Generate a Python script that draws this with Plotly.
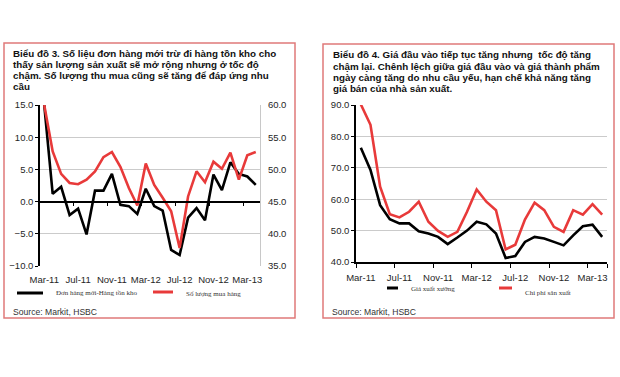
import plotly.graph_objects as go

# ---------------- data ----------------
months = ["Mar-11", "Apr-11", "May-11", "Jun-11", "Jul-11", "Aug-11", "Sep-11", "Oct-11",
          "Nov-11", "Dec-11", "Jan-12", "Feb-12", "Mar-12", "Apr-12", "May-12", "Jun-12",
          "Jul-12", "Aug-12", "Sep-12", "Oct-12", "Nov-12", "Dec-12", "Jan-13", "Feb-13",
          "Mar-13", "Apr-13"]
tick_labels = ["Mar-11", "Jul-11", "Nov-11", "Mar-12", "Jul-12", "Nov-12", "Mar-13"]

# Chart 3
new_orders_minus_inventory = [15.0, 1.2, 2.3, -2.1, -1.1, -5.1, 1.7, 1.7, 4.3, -0.5, -0.7, -1.9, 2.0,
                              -0.7, -1.4, -7.5, -8.3, -2.5, -1.0, -2.9, 4.2, 1.8, 6.1, 4.3, 3.9, 2.6]
purchases = [60.0, 52.8, 49.3, 47.9, 47.7, 48.4, 49.7, 51.9, 52.7, 50.4, 47.1, 44.4, 50.9,
             47.6, 45.6, 43.5, 37.8, 45.8, 49.7, 48.0, 51.2, 50.1, 52.6, 48.4, 52.2, 52.7]

# Chart 4
output_prices = [76.4, 69.3, 58.1, 53.6, 52.3, 52.3, 49.8, 49.1, 48.0, 45.7, 47.8, 50.0, 52.8,
                 52.0, 49.1, 41.3, 41.9, 46.4, 48.0, 47.5, 46.4, 45.3, 48.5, 51.4, 51.9, 48.0]
input_prices = [90.2, 83.7, 64.0, 55.2, 54.2, 56.0, 59.2, 52.8, 49.9, 48.0, 49.6, 56.0, 63.1,
                59.2, 56.5, 44.0, 45.5, 53.5, 58.9, 56.5, 51.2, 49.6, 56.5, 55.1, 58.4, 55.1]

title3 = ["Biểu đồ 3. Số liệu đơn hàng mới trừ đi hàng tồn kho cho",
          "thấy sản lượng sản xuất sẽ mở rộng nhưng ở tốc độ",
          "chậm. Số lượng thu mua cũng sẽ tăng để đáp ứng nhu",
          "cầu"]
title4 = ["Biểu đồ 4. Giá đầu vào tiếp tục tăng nhưng  tốc độ tăng",
          "chậm lại. Chênh lệch giữa giá đầu vào và giá thành phẩm",
          "ngày càng tăng do nhu cầu yếu, hạn chế khả năng tăng",
          "giá bán của nhà sản xuất."]
legend3 = ["Đơn hàng mới-Hàng tồn kho", "Số lượng mua hàng"]
legend4 = ["Giá xuất xưởng", "Chi phí sản xuất"]
source = "Source: Markit, HSBC"

# ---------------- layout helpers ----------------
W, H = 620, 377
def px(x):
    return x / W
def py(y):
    return 1 - y / H

RED = "#e83a3a"
BORDER = "#e07a7a"
FONT = "Liberation Sans, Arial, sans-serif"
TXT = "#262626"

x_idx = list(range(len(months)))
tick_pos = [months.index(t) for t in tick_labels]
bound_ticks = [-0.5 + 4 * k for k in range(7)] + [len(months) - 0.5]

L_dom_x = [px(40), px(260)]
L_dom_y = [py(266), py(105)]
R_dom_x = [px(356), px(607)]
R_dom_y = [py(262), py(105)]
y1_range = [-10, 15]
zero_pos = L_dom_y[0] + (0 - y1_range[0]) / (y1_range[1] - y1_range[0]) * (L_dom_y[1] - L_dom_y[0])

fig = go.Figure()

fig.add_trace(go.Scatter(x=x_idx, y=new_orders_minus_inventory, mode="lines", name=legend3[0],
                         line=dict(color="black", width=2.6), xaxis="x", yaxis="y"))
fig.add_trace(go.Scatter(x=x_idx, y=purchases, mode="lines", name=legend3[1],
                         line=dict(color=RED, width=2.6), xaxis="x", yaxis="y2"))
# helper (invisible) trace so the zero-line category axis is rendered
fig.add_trace(go.Scatter(x=x_idx, y=new_orders_minus_inventory, mode="lines", opacity=0,
                         hoverinfo="skip", showlegend=False, xaxis="x3", yaxis="y"))
fig.add_trace(go.Scatter(x=x_idx, y=output_prices, mode="lines", name=legend4[0],
                         line=dict(color="black", width=2.6), xaxis="x2", yaxis="y3"))
fig.add_trace(go.Scatter(x=x_idx, y=input_prices, mode="lines", name=legend4[1],
                         line=dict(color=RED, width=2.6), xaxis="x2", yaxis="y3"))

tickfont = dict(family=FONT, size=9.5, color=TXT)

fig.update_layout(
    width=W, height=H, autosize=False,
    margin=dict(l=0, r=0, t=0, b=0, pad=0, autoexpand=False),
    paper_bgcolor="white", plot_bgcolor="white",
    showlegend=False,
    xaxis=dict(domain=L_dom_x, anchor="y", range=[-0.5, 25.5], tickmode="array",
               tickvals=tick_pos, ticktext=tick_labels, ticks="", showline=False,
               showgrid=False, zeroline=False, tickfont=tickfont, automargin=False,
               ticklabelstandoff=6),
    xaxis3=dict(overlaying="x", anchor="free", position=zero_pos, range=[-0.5, 25.5],
                showline=True, linecolor="black", linewidth=1.5, tickmode="array",
                tickvals=bound_ticks[1:-1], ticks="outside", ticklen=4, tickcolor="black",
                showticklabels=False, showgrid=False, zeroline=False, automargin=False),
    yaxis=dict(domain=L_dom_y, anchor="x", range=y1_range, dtick=5, tickformat=".1f",
               showline=True, linecolor="black", linewidth=1.5, ticks="outside", ticklen=3,
               tickcolor="black", showgrid=True, gridcolor="#cbcbcb", gridwidth=1,
               zeroline=False, tickfont=tickfont, automargin=False),
    yaxis2=dict(overlaying="y", side="right", anchor="x", range=[35, 60], dtick=5,
                tickformat=".1f", showline=True, linecolor="#c8c8c8", linewidth=1,
                ticks="", showgrid=False, zeroline=False, tickfont=tickfont, automargin=False,
                ticklabelstandoff=5),
    xaxis2=dict(domain=R_dom_x, anchor="y3", range=[-0.5, 25.5], tickmode="array",
                tickvals=tick_pos, ticktext=tick_labels, ticks="", showline=True,
                linecolor="black", linewidth=1.5, showgrid=False, zeroline=False,
                tickfont=tickfont, automargin=False, ticklabelstandoff=6,
                minor=dict(tickmode="array", tickvals=bound_ticks, ticks="outside",
                           ticklen=4, tickcolor="black", showgrid=False)),
    yaxis3=dict(domain=R_dom_y, anchor="x2", range=[40, 90], dtick=10, tickformat=".1f",
                showline=True, linecolor="black", linewidth=1.5, ticks="outside", ticklen=3,
                tickcolor="black", showgrid=True, gridcolor="#cbcbcb", gridwidth=1,
                zeroline=False, tickfont=tickfont, automargin=False),
)

shapes = [
    dict(type="rect", xref="paper", yref="paper", x0=px(4), x1=px(295), y0=py(318), y1=py(43),
         line=dict(color=BORDER, width=1.5)),
    dict(type="rect", xref="paper", yref="paper", x0=px(323), x1=px(614), y0=py(318), y1=py(44),
         line=dict(color=BORDER, width=1.5)),
    # legend samples
    dict(type="line", xref="paper", yref="paper", x0=px(17), x1=px(43), y0=py(293), y1=py(293),
         line=dict(color="black", width=3)),
    dict(type="line", xref="paper", yref="paper", x0=px(153), x1=px(173), y0=py(292), y1=py(292),
         line=dict(color=RED, width=3)),
    dict(type="line", xref="paper", yref="paper", x0=px(387), x1=px(398), y0=py(288), y1=py(288),
         line=dict(color="black", width=3)),
    dict(type="line", xref="paper", yref="paper", x0=px(499), x1=px(512), y0=py(288), y1=py(288),
         line=dict(color=RED, width=3)),
]
fig.update_layout(shapes=shapes)

ann = []
def text(x, y, s, size, bold=False, color=TXT, family=FONT):
    ann.append(dict(x=px(x), y=py(y), xref="paper", yref="paper", xanchor="left",
                    yanchor="middle", showarrow=False, text=f"<b>{s}</b>" if bold else s,
                    font=dict(family=family, size=size, color=color)))

for i, line in enumerate(title3):
    text(11, 53 + i * 11.2, line, 9.8, bold=True, color="#111")
for i, line in enumerate(title4):
    text(331, 55 + i * 11.2, line, 9.8, bold=True, color="#111")

text(54, 293, legend3[0], 7, family="Liberation Serif, serif", color="#333")
text(184, 294, legend3[1], 7, family="Liberation Serif, serif", color="#333")
text(409, 289, legend4[0], 7, family="Liberation Serif, serif", color="#333")
text(523, 293, legend4[1], 7, family="Liberation Serif, serif", color="#333")
text(11, 312, source, 8.6, color="#333")
text(330, 312, source, 8.6, color="#333")

fig.update_layout(annotations=ann)

fig.write_html("out.html", config={"displayModeBar": False},
               post_script="document.body.style.margin='0px';")
